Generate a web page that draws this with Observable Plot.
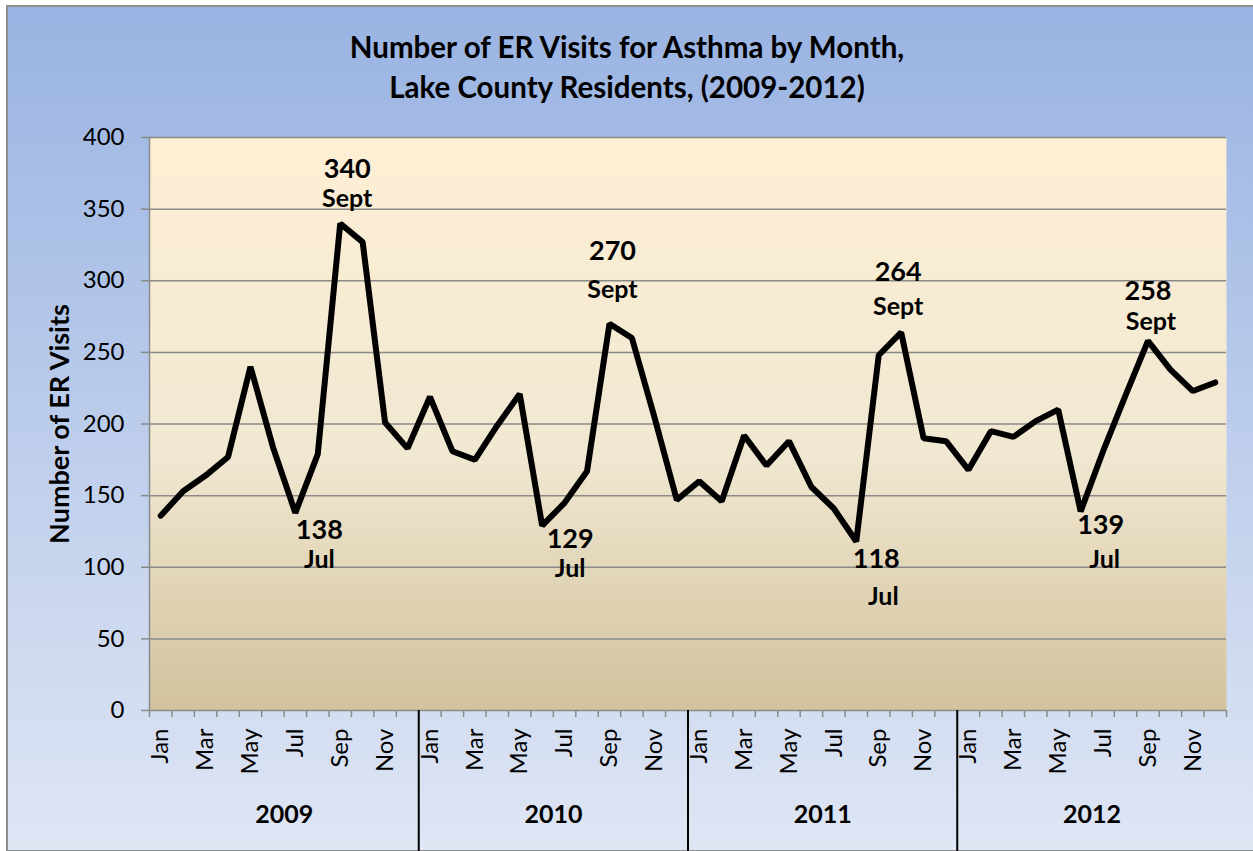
<!DOCTYPE html>
<html><head><meta charset="utf-8">
<script src="https://cdn.jsdelivr.net/npm/d3@7"></script>
<script src="https://cdn.jsdelivr.net/npm/@observablehq/plot@0.6"></script>
<style>
html,body{margin:0;padding:0;background:#fff;}
#wrap{position:relative;width:1253px;height:851px;overflow:hidden;}
#bg{position:absolute;left:6px;top:5px;width:1270px;height:843px;border:2px solid #8e8e8e;background:linear-gradient(to bottom,#99b3e2,#dfe6f4);}
#chart{position:absolute;left:0;top:0;}
</style></head><body>
<div id="wrap"><div id="bg"></div><div id="chart"></div></div>
<script>
const titleText = "Number of ER Visits for Asthma by Month,\nLake County Residents, (2009-2012)";
const yTitle = "Number of ER Visits";
const years = ["2009", "2010", "2011", "2012"];
const monthNames = ["Jan","Feb","Mar","Apr","May","Jun","Jul","Aug","Sep","Oct","Nov","Dec"];
const visits2009 = [136, 153, 164, 177, 240, 184, 138, 179, 340, 327, 201, 183];
const visits2010 = [219, 181, 175, 199, 221, 129, 145, 167, 270, 260, 205, 147];
const visits2011 = [160, 146, 192, 171, 188, 156, 141, 118, 248, 264, 190, 188];
const visits2012 = [168, 195, 191, 202, 210, 139, 181, 220, 258, 238, 223, 229];
const yTicks = [0, 50, 100, 150, 200, 250, 300, 350, 400];
// annotation: month index in series, shown number, shown month label
const annotations = [
  {idx: 8,  num: "340", mon: "Sept"},
  {idx: 6,  num: "138", mon: "Jul"},
  {idx: 20, num: "270", mon: "Sept"},
  {idx: 17, num: "129", mon: "Jul"},
  {idx: 33, num: "264", mon: "Sept"},
  {idx: 31, num: "118", mon: "Jul"},
  {idx: 44, num: "258", mon: "Sept"},
  {idx: 41, num: "139", mon: "Jul"}
];
// label offsets (style, px)
const annOffsets = [
  {ndx: 7, ndy: -54, mdx: 7, mdy: -24},
  {ndx: 24, ndy: 18, mdx: 24, mdy: 47},
  {ndx: 3, ndy: -72, mdx: 3, mdy: -34},
  {ndx: 28, ndy: 14, mdx: 28, mdy: 43},
  {ndx: -3, ndy: -60, mdx: -3, mdy: -25},
  {ndx: 20, ndy: 18, mdx: 27, mdy: 56},
  {ndx: 0, ndy: -50, mdx: 3, mdy: -19},
  {ndx: 20, ndy: 14, mdx: 24, mdy: 49}
];

const series = [visits2009, visits2010, visits2011, visits2012];
const rows = series.flatMap((vals, k) => vals.map((v, m) => ({idx: k * 12 + m, value: v})));
const valueAt = i => rows[i].value;

const monthTickPos = d3.range(years.length * 12).filter(i => i % 2 === 0).map(i => i + 0.5);
const yearPos = years.map((y, k) => k * 12 + 6);
const sepPos = d3.range(1, years.length).map(k => k * 12);

const defsMark = () => {
  const defs = d3.create("svg:defs");
  const g = defs.append("linearGradient").attr("id", "plotGrad")
    .attr("x1", 0).attr("y1", 0).attr("x2", 0).attr("y2", 1);
  g.append("stop").attr("offset", "0").attr("stop-color", "#fdefd4");
  g.append("stop").attr("offset", "0.55").attr("stop-color", "#f1e8d2");
  g.append("stop").attr("offset", "1").attr("stop-color", "#d2c29d");
  return defs.node();
};

const annMarks = annotations.flatMap((a, i) => {
  const o = annOffsets[i];
  return [
    Plot.text([a], {x: d => d.idx + 0.5, y: d => valueAt(d.idx), text: "num", dx: o.ndx, dy: o.ndy, fontSize: 27, fontWeight: "bold"}),
    Plot.text([a], {x: d => d.idx + 0.5, y: d => valueAt(d.idx), text: "mon", dx: o.mdx, dy: o.mdy, fontSize: 25, fontWeight: "bold"})
  ];
});

const chart = Plot.plot({
  width: 1253, height: 851,
  marginLeft: 149, marginRight: 27, marginTop: 137, marginBottom: 141,
  style: {background: "transparent", fontFamily: "Lato, sans-serif", color: "#000", overflow: "visible"},
  x: {type: "linear", domain: [0, years.length * 12], axis: null},
  y: {domain: [0, 400], axis: null},
  marks: [
    defsMark,
    Plot.frame({fill: "url(#plotGrad)", stroke: "none"}),
    Plot.gridY(yTicks, {stroke: "#8a8a8a", strokeOpacity: 1, strokeWidth: 1.5}),
    Plot.ruleX([0], {stroke: "#8a8a8a", strokeWidth: 1.5}),
    Plot.axisY(yTicks, {tickSize: 8, tickPadding: 17, fontSize: 24, stroke: "#8a8a8a", strokeWidth: 1.5, label: null, tickFormat: d => String(d)}),
    Plot.axisX(d3.range(years.length * 12 + 1), {tickSize: 7, stroke: "#8a8a8a", strokeWidth: 1.5, label: null, tickFormat: () => ""}),
    Plot.axisX(sepPos, {tickSize: 141, stroke: "#000", strokeWidth: 2, label: null, tickFormat: () => ""}),
    Plot.axisX(monthTickPos, {tickSize: 0, tickPadding: 18, tickRotate: -90, fontSize: 24, label: null, tickFormat: p => monthNames[Math.floor(p) % 12]}),
    Plot.axisX(yearPos, {tickSize: 0, tickPadding: 95, fontSize: 25, fontWeight: "bold", label: null, tickFormat: p => years[Math.floor(p / 12)]}),
    Plot.line(rows, {x: d => d.idx + 0.5, y: "value", stroke: "#000", strokeWidth: 6, strokeLinejoin: "miter", strokeLinecap: "round"}),
    ...annMarks,
    Plot.text([yTitle], {frameAnchor: "left", textAnchor: "middle", dx: -89, rotate: -90, fontSize: 27, fontWeight: "bold"}),
    Plot.text([titleText], {frameAnchor: "top", dx: -61, dy: -108, lineHeight: 1.36, fontSize: 29.5, fontWeight: "bold"})
  ]
});
document.getElementById("chart").appendChild(chart);
</script>
</body></html>
